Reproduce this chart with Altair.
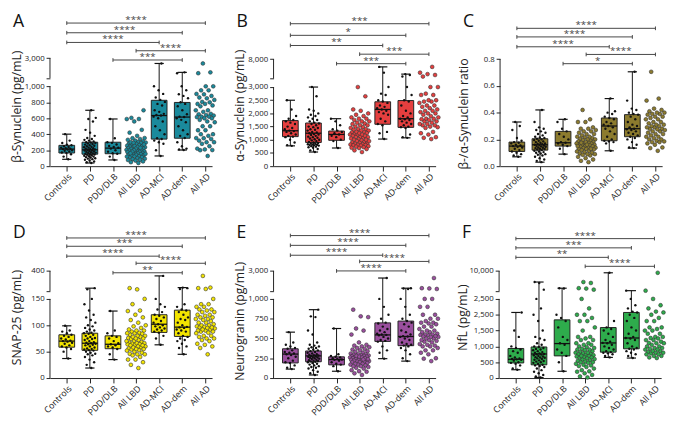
import altair as alt
import pandas as pd

GROUPS = ["Controls", "PD", "PDD/DLB", "All LBD", "AD-MCI", "AD-dem", "All AD"]
BOX_GROUPS = ["Controls", "PD", "PDD/DLB", "AD-MCI", "AD-dem"]
PAIRS5 = [(0, 6), (0, 5), (0, 4), (3, 6), (2, 5)]
PAIRS4 = [(0, 6), (0, 5), (0, 4), (3, 6)]


def nums(s):
    return [float(t) for t in s.split()]


# ---------------- Panel A: beta-synuclein ----------------
A_CTRL = nums("401 320 290 270 262 250 240 232 225 218 214 208 200 192 183 172 165 150 120 86")
A_PD = nums("700 605 590 560 455 420 380 352 340 330 320 310 300 296 290 284 278 270 262 256 250 244 238 232 226 220 215 210 205 200 195 190 185 180 175 170 165 160 155 150 146 142 136 130 125 120 114 108 100 94 88 80 70 60 50 40")
A_PDD = nums("591 350 300 292 272 252 240 230 220 200 182 162 155 120 78")
A_MCI = nums("2463 1000 950 905 860 830 805 780 760 700 680 655 640 634 620 600 560 500 450 400 350 340 320 300 280 200 128")
A_DEM = nums("1567 1480 1000 950 900 880 850 800 780 750 700 650 620 615 600 580 550 500 450 400 380 352 300 250 220 210 202")
A_LO = [86, 40, 78, 128, 202]
A_Q1 = [165, 150, 156, 339, 350]
A_MED = [214, 205, 226, 634, 615]
A_Q3 = [261, 300, 300, 825, 798]
A_HI = [401, 700, 591, 2463, 1567]
A_STARS = ["****", "****", "****", "****", "***"]
A_BH = [155, 144.5, 134, 125, 115]

# ---------------- Panel B: alpha-synuclein ----------------
B_CTRL = nums("2500 2150 1900 1800 1750 1700 1650 1600 1500 1450 1400 1350 1330 1300 1250 1200 1150 1120 1100 1000 900 800 771")
B_PD = nums("3000 2650 2150 2100 2000 1950 1900 1850 1800 1750 1700 1650 1620 1600 1550 1500 1480 1450 1400 1380 1350 1300 1280 1250 1220 1200 1180 1150 1120 1100 1080 1050 1020 1000 980 950 920 900 880 860 850 830 820 810 800 790 780 760 740 720 700 650 600 537")
B_PDD = nums("1800 1700 1550 1400 1350 1300 1250 1200 1150 1100 1000 950 689")
B_MCI = nums("5985 4500 3000 2750 2700 2500 2450 2400 2300 2250 2200 2150 2100 2050 2000 1950 1800 1700 1600 1550 1300 1250 1028")
B_DEM = nums("4119 3900 3500 3000 2700 2500 2450 2300 2100 2000 1900 1850 1800 1780 1750 1700 1650 1600 1550 1500 1480 1450 1200 1100 1075")
B_LO = [771, 537, 689, 1028, 1075]
B_Q1 = [1121, 900, 981, 1589, 1472]
B_MED = [1343, 1250, 1203, 2150, 1800]
B_Q3 = [1729, 1636, 1332, 2441, 2488]
B_HI = [2500, 3000, 1800, 5985, 4119]
B_STARS = ["***", "*", "**", "***", "***"]
B_BH = [154.3, 141.7, 130.7, 121.3, 111]

# ---------------- Panel C: ratio ----------------
C_CTRL = nums("0.33 0.30 0.27 0.21 0.19 0.18 0.175 0.17 0.16 0.155 0.15 0.145 0.14 0.13 0.12 0.11 0.10 0.09 0.08 0.07")
C_PD = nums("0.42 0.33 0.29 0.28 0.27 0.26 0.25 0.24 0.23 0.22 0.215 0.21 0.205 0.20 0.195 0.19 0.185 0.18 0.175 0.17 0.168 0.165 0.16 0.158 0.155 0.15 0.148 0.145 0.14 0.138 0.135 0.13 0.128 0.125 0.12 0.115 0.11 0.105 0.10 0.095 0.09 0.085 0.08 0.07 0.06 0.05 0.04 0.03")
C_PDD = nums("0.35 0.33 0.28 0.26 0.24 0.22 0.20 0.18 0.175 0.17 0.16 0.15 0.13 0.09")
C_MCI = nums("0.505 0.41 0.40 0.39 0.37 0.36 0.35 0.33 0.32 0.31 0.30 0.29 0.28 0.26 0.24 0.22 0.20 0.19 0.185 0.18 0.17 0.115")
C_DEM = nums("0.705 0.49 0.43 0.42 0.40 0.39 0.385 0.37 0.35 0.33 0.31 0.30 0.29 0.28 0.275 0.27 0.26 0.25 0.24 0.23 0.22 0.21 0.20 0.18 0.16 0.14 0.135")
C_LO = [0.07, 0.03, 0.09, 0.115, 0.135]
C_Q1 = [0.11, 0.12, 0.15, 0.19, 0.22]
C_MED = [0.15, 0.16, 0.175, 0.30, 0.28]
C_Q3 = [0.18, 0.205, 0.26, 0.36, 0.385]
C_HI = [0.33, 0.42, 0.35, 0.505, 0.705]
C_STARS = ["****", "****", "****", "****", "*"]
C_BH = [149.3, 140, 129.3, 121, 111]

# ---------------- Panel D: SNAP-25 ----------------
D_CTRL = nums("99 90 88 85 82 80 78 75 73 71 70 69 67 65 62 60 58 55 50 37")
D_PD = nums("185 170 150 140 128 120 115 110 105 100 98 95 92 90 88 86 85 84 82 80 78 76 75 74 72 70 68 67 66 65 64 63 62 60 58 56 55 54 53 52 50 48 46 45 43 40 35 30 25 19")
D_PDD = nums("127 90 85 80 78 75 70 66 64 62 60 58 55 45 35")
D_MCI = nums("338 150 140 135 130 125 120 118 115 112 108 105 102 100 98 96 94 92 90 88 86 80 75 63")
D_DEM = nums("192 185 175 140 135 130 128 125 120 115 112 110 105 100 97 96 95 92 90 88 85 80 78 75 72 70 65 60 57 45")
D_LO = [37, 19, 35, 63, 45]
D_Q1 = [58.5, 52.6, 55.6, 86.5, 78.9]
D_MED = [70, 66, 64, 102, 96.5]
D_Q3 = [82, 85, 80, 120, 128.7]
D_HI = [99, 185, 127, 338, 192]
D_STARS = ["****", "***", "****", "****", "**"]
D_BH = [151.7, 142.7, 132, 124.3, 114]

# ---------------- Panel E: neurogranin ----------------
E_CTRL = nums("580 450 420 400 380 370 350 330 320 310 300 290 270 250 220 200 190 160 130 113")
E_PD = nums("864 780 770 600 550 450 420 410 400 390 380 370 360 350 340 330 320 310 300 295 290 285 280 275 270 265 260 255 250 245 240 230 225 220 215 210 205 200 190 180 170 160 150 140 130 120 100 80 60 39")
E_PDD = nums("626 300 280 270 260 250 240 235 230 220 200 180 170 150 86")
E_MCI = nums("2292 1000 900 800 750 700 690 650 620 600 580 560 550 545 540 520 500 480 470 460 400 350 320 245")
E_DEM = nums("1277 1250 1200 1000 900 800 750 720 700 680 650 600 580 550 530 525 520 500 480 450 430 420 410 400 380 350 300 250 214")
E_LO = [113, 39, 86, 245, 214]
E_Q1 = [191, 206, 167, 463, 409]
E_MED = [303, 280, 233, 545, 525]
E_Q3 = [370, 342, 268, 697, 720]
E_HI = [580, 864, 626, 2292, 1277]
E_STARS = ["****", "****", "****", "****", "****"]
E_BH = [154.3, 143.7, 133, 126.3, 116]

# ---------------- Panel F: NfL ----------------
F_CTRL = nums("2072 1500 1300 1000 950 900 850 800 700 650 620 600 590 580 550 500 480 450 400 300 263")
F_PD = nums("5846 5500 3000 2500 2200 2000 1800 1500 1300 1250 1200 1100 1050 1000 980 950 920 900 880 850 820 800 780 760 750 740 720 700 680 660 650 640 620 600 580 560 540 520 500 480 450 420 400 380 350 300 250 200 150 100 50 19")
F_PDD = nums("3538 3400 2000 1900 1800 1600 1300 1200 1100 1050 900 800 700 500 214")
F_MCI = nums("9308 1800 1600 1550 1500 1400 1300 1200 1150 1110 1100 1050 1000 950 900 850 820 800 780 750 700 652")
F_DEM = nums("2615 2500 2300 2200 2100 2072 2000 1900 1800 1600 1500 1400 1300 1265 1250 1200 1100 1000 950 924 900 850 800 750 700 632")
F_LO = [263, 19, 214, 652, 632]
F_Q1 = [477, 418, 700, 817, 924]
F_MED = [593, 760, 1089, 1109, 1265]
F_Q3 = [934, 982, 1838, 1595, 2072]
F_HI = [2072, 5846, 3538, 9308, 2615]
F_STARS = ["****", "***", "**", "****"]
F_BH = [151, 141, 130.7, 121]

PANELS = [
    dict(letter="A", title="β-Synuclein (pg/mL)", color="#1a8a9c",
         pts={"Controls": A_CTRL, "PD": A_PD, "PDD/DLB": A_PDD, "AD-MCI": A_MCI, "AD-dem": A_DEM},
         stats=dict(lo=A_LO, q1=A_Q1, med=A_MED, q3=A_Q3, hi=A_HI),
         brk=(1000, 86.5, 95.5, 3000, 117.0),
         ticks=[0, 200, 400, 600, 800, 1000], labels=["0", "200", "400", "600", "800", "1,000"], top="3,000",
         pairs=PAIRS5, stars=A_STARS, bh=A_BH, tc=65, tx=-27),
    dict(letter="B", title="α-Synuclein (pg/mL)", color="#e53f3f",
         pts={"Controls": B_CTRL, "PD": B_PD, "PDD/DLB": B_PDD, "AD-MCI": B_MCI, "AD-dem": B_DEM},
         stats=dict(lo=B_LO, q1=B_Q1, med=B_MED, q3=B_Q3, hi=B_HI),
         brk=(3000, 85.7, 95.0, 8000, 116.0),
         ticks=[0, 500, 1000, 1500, 2000, 2500, 3000],
         labels=["0", "500", "1,000", "1,500", "2,000", "2,500", "3,000"], top="8,000",
         pairs=PAIRS5, stars=B_STARS, bh=B_BH, tc=66, tx=-28),
    dict(letter="C", title="β-/α-Synuclein ratio", color="#8c7b2e",
         pts={"Controls": C_CTRL, "PD": C_PD, "PDD/DLB": C_PDD, "AD-MCI": C_MCI, "AD-dem": C_DEM},
         stats=dict(lo=C_LO, q1=C_Q1, med=C_MED, q3=C_Q3, hi=C_HI),
         brk=(0.8, 116.0, None, 0.8, 116.0),
         ticks=[0, 0.2, 0.4, 0.6, 0.8], labels=["0.0", "0.2", "0.4", "0.6", "0.8"], top=None,
         pairs=PAIRS5, stars=C_STARS, bh=C_BH, tc=57, tx=-30),
    dict(letter="D", title="SNAP-25 (pg/mL)", color="#f2e400",
         pts={"Controls": D_CTRL, "PD": D_PD, "PDD/DLB": D_PDD, "AD-MCI": D_MCI, "AD-dem": D_DEM},
         stats=dict(lo=D_LO, q1=D_Q1, med=D_MED, q3=D_Q3, hi=D_HI),
         brk=(150, 85.7, 94.3, 400, 116.0),
         ticks=[0, 50, 100, 150], labels=["0", "50", "100", "150"], top="400",
         pairs=PAIRS5, stars=D_STARS, bh=D_BH, tc=66, tx=-27),
    dict(letter="E", title="Neurogranin (pg/mL)", color="#9a4f9e",
         pts={"Controls": E_CTRL, "PD": E_PD, "PDD/DLB": E_PDD, "AD-MCI": E_MCI, "AD-dem": E_DEM},
         stats=dict(lo=E_LO, q1=E_Q1, med=E_MED, q3=E_Q3, hi=E_HI),
         brk=(1000, 85.7, 94.3, 3000, 116.0),
         ticks=[0, 250, 500, 750, 1000], labels=["0", "250", "500", "750", "1,000"], top="3,000",
         pairs=PAIRS5, stars=E_STARS, bh=E_BH, tc=62, tx=-28),
    dict(letter="F", title="NfL (pg/mL)", color="#2eac4c",
         pts={"Controls": F_CTRL, "PD": F_PD, "PDD/DLB": F_PDD, "AD-MCI": F_MCI, "AD-dem": F_DEM},
         stats=dict(lo=F_LO, q1=F_Q1, med=F_MED, q3=F_Q3, hi=F_HI),
         brk=(2500, 85.7, 94.3, 10000, 116.0),
         ticks=[0, 500, 1000, 1500, 2000, 2500],
         labels=["0", "500", "1,000", "1,500", "2,500", "2,500"], top="10,000",
         pairs=PAIRS4, stars=F_STARS, bh=F_BH, tc=66, tx=-30),
]

W, H = 166, 157
DTOP = 166.0
XDOM = [-0.727, 6.29]
INK = "#222222"


def build(p):
    L, pL, pB, U, pT = p["brk"]
    has_brk = pB is not None

    def tf(f):
        if has_brk:
            return (f"datum.{f} <= {L} ? datum.{f} / {L} * {pL} : "
                    f"{pB} + (datum.{f} - {L}) / {U - L} * {pT - pB}")
        return f"datum.{f} / {L} * {pL}"

    def disp(v):
        if v <= L:
            return v / L * pL
        return pB + (v - L) / (U - L) * (pT - pB)

    pos = [round(disp(v), 4) for v in p["ticks"]]
    labs = list(p["labels"])
    if has_brk:
        pos += [pB, pT]
        labs += ["", p["top"]]
    lab_expr = "".join(f"abs(datum.value - {q}) < 0.01 ? '{l}' : " for q, l in zip(pos, labs)) + "''"

    yax = alt.Axis(values=pos, labelExpr=lab_expr, title=p["title"], grid=False, domain=False,
                   tickSize=4, tickColor=INK, labelFontSize=8, labelColor=INK, labelPadding=2,
                   labelOverlap=False,
                   titleFontSize=12.5, titleFontWeight="normal", titleColor=INK,
                   titleAngle=270, titleBaseline="bottom", titleAlign="center",
                   titleX=p["tx"], titleY=H - p["tc"] * H / DTOP)
    names = "[" + ",".join(f"'{g}'" for g in GROUPS) + "]"
    xax = alt.Axis(values=list(range(7)), labelExpr=f"{names}[datum.value]", labelAngle=-45,
                   labelOverlap=False, grid=False, title=None, tickSize=5, tickColor=INK,
                   domainColor=INK, labelFontSize=9, labelColor=INK, labelPadding=1)
    xs = alt.Scale(domain=XDOM, nice=False, zero=False)
    ys = alt.Scale(domain=[0, DTOP], nice=False, zero=False)

    def X(f):
        return alt.X(f, type="quantitative", scale=xs, axis=xax)

    def Y(f):
        return alt.Y(f, type="quantitative", scale=ys, axis=yax)

    color = p["color"]

    # axis line segments (broken y axis)
    if has_brk:
        segs = pd.DataFrame({"d0": [0, pB], "d1": [pL, pT]})
    else:
        segs = pd.DataFrame({"d0": [0], "d1": [pT]})
    ax_line = alt.Chart(segs).mark_rule(color=INK, strokeWidth=1).encode(
        x=alt.value(0), y=Y("d0"), y2="d1")

    # box plots
    st = pd.DataFrame({"idx": [GROUPS.index(g) for g in BOX_GROUPS], **p["stats"]})
    base = alt.Chart(st).transform_calculate(
        dlo=tf("lo"), dq1=tf("q1"), dmed=tf("med"), dq3=tf("q3"), dhi=tf("hi"),
        bl="datum.idx - 0.34", br="datum.idx + 0.34",
        cl="datum.idx - 0.2", cr="datum.idx + 0.2")
    whisk = base.mark_rule(color="#111", strokeWidth=1).encode(x=X("idx"), y=Y("dlo"), y2="dhi")
    cap_hi = base.mark_rule(color="#111", strokeWidth=1.2).encode(x=X("cl"), x2="cr", y=Y("dhi"))
    cap_lo = base.mark_rule(color="#111", strokeWidth=1.2).encode(x=X("cl"), x2="cr", y=Y("dlo"))
    box = base.mark_rect(fill=color, stroke=INK, strokeWidth=1).encode(
        x=X("bl"), x2="br", y=Y("dq1"), y2="dq3")
    med = base.mark_rule(color="#111", strokeWidth=1.3).encode(x=X("bl"), x2="br", y=Y("dmed"))

    # points
    rows = []
    for g in BOX_GROUPS:
        for v in p["pts"][g]:
            rows.append({"idx": GROUPS.index(g), "v": v, "kind": "box"})
    for v in p["pts"]["PD"] + p["pts"]["PDD/DLB"]:
        rows.append({"idx": 3, "v": v, "kind": "all"})
    for v in p["pts"]["AD-MCI"] + p["pts"]["AD-dem"]:
        rows.append({"idx": 6, "v": v, "kind": "all"})
    pts = alt.Chart(pd.DataFrame(rows)).transform_calculate(d=tf("v")).transform_window(
        rn="row_number()", groupby=["idx"], sort=[alt.SortField("v", order="ascending")]
    ).transform_calculate(
        jx="datum.idx + ((datum.rn * 0.618034) % 1 - 0.5) * (datum.kind == 'all' ? 0.85 : 0.52)")
    small = pts.transform_filter("datum.kind == 'box'").mark_circle(
        size=6, color="#111", opacity=1).encode(x=X("jx"), y=Y("d"))
    big = pts.transform_filter("datum.kind == 'all'").mark_circle(
        size=15, color=color, stroke="#333", strokeWidth=0.6, opacity=1).encode(x=X("jx"), y=Y("d"))

    # significance brackets
    bk = pd.DataFrame({"i": [a for a, b in p["pairs"]], "j": [b for a, b in p["pairs"]],
                       "h": p["bh"], "s": p["stars"]})
    bb = alt.Chart(bk).transform_calculate(
        mid="(datum.i + datum.j) / 2", hlo="datum.h - 2", hhi="datum.h + 2")
    b_line = bb.mark_rule(color="#444", strokeWidth=1).encode(x=X("i"), x2="j", y=Y("h"))
    b_t1 = bb.mark_rule(color="#444", strokeWidth=1).encode(x=X("i"), y=Y("hlo"), y2="hhi")
    b_t2 = bb.mark_rule(color="#444", strokeWidth=1).encode(x=X("j"), y=Y("hlo"), y2="hhi")
    b_txt = bb.mark_text(fontSize=10, color="#444", baseline="alphabetic").encode(
        x=X("mid"), y=Y("h"), text="s:N")

    letter = alt.Chart(pd.DataFrame({"t": [p["letter"]]})).mark_text(
        fontSize=18, align="left", baseline="top", color="#111").encode(
        x=alt.value(-38), y=alt.value(0), text="t:N")

    return alt.layer(ax_line, whisk, cap_hi, cap_lo, box, med, small, big,
                     b_line, b_t1, b_t2, b_txt, letter).properties(width=W, height=H)


row1 = alt.hconcat(*[build(p) for p in PANELS[:3]], spacing=16)
row2 = alt.hconcat(*[build(p) for p in PANELS[3:]], spacing=16)
chart = alt.vconcat(row1, row2, spacing=20).properties(
    padding={"left": 3, "top": 0, "right": 0, "bottom": 0}).configure(
    font="Open Sans").configure_view(stroke=None)

chart.save("out.html", embed_options={"renderer": "svg", "actions": False})
